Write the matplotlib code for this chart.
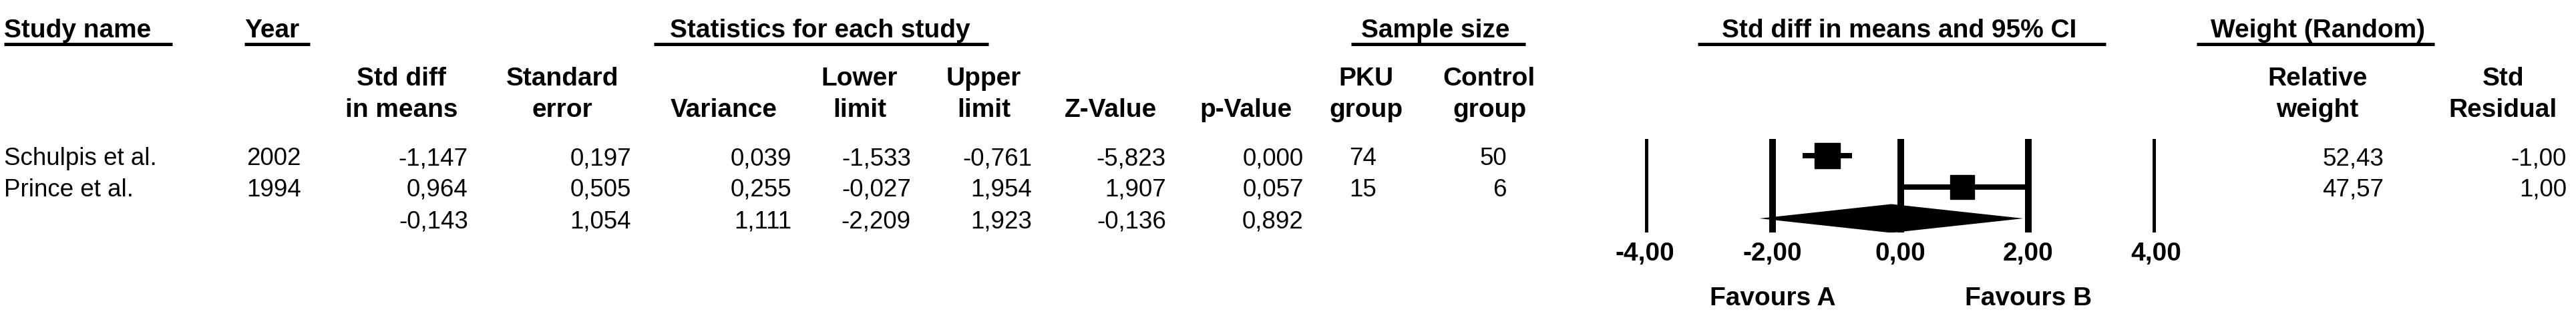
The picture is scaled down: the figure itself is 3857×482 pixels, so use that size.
import matplotlib
matplotlib.use('Agg')
import matplotlib.pyplot as plt

# per-study values
studies = ['Schulpis et al.', 'Prince et al.']
years = [2002, 1994]
std_diff = [-1.147, 0.964]
std_err = [0.197, 0.505]
variance = [0.039, 0.255]
lower = [-1.533, -0.027]
upper = [-0.761, 1.954]
z_value = [-5.823, 1.907]
p_value = [0.000, 0.057]
pku_n = [74, 15]
control_n = [50, 6]
rel_weight = [52.43, 47.57]
std_resid = [-1.00, 1.00]

# pooled (random effects) row
pooled_diff = -0.143
pooled_se = 1.054
pooled_var = 1.111
pooled_lower = -2.209
pooled_upper = 1.923
pooled_z = -0.136
pooled_p = 0.892

axis_ticks = [-4, -2, 0, 2, 4]

W, H = 3857, 482


def fmt(v, d):
    return f"{v:.{d}f}".replace('.', ',')


plt.rcParams['font.family'] = ['Liberation Sans', 'DejaVu Sans']

fig = plt.figure(figsize=(W / 100, H / 100), dpi=100)

# text layer in pixel coordinates
tab = fig.add_axes([0, 0, 1, 1])
tab.set_xlim(0, W)
tab.set_ylim(H, 0)
tab.axis('off')

FS = 26.5
HFS = 28

# group titles with underlines
groups = [
    ('Study name', 6, 6, 258),
    ('Year', 366, 366, 464),
    ('Statistics for each study', 1003, 979, 1480),
    ('Sample size', 2038, 2023, 2284),
    ('Std diff in means and 95% CI', 2578, 2542, 3153),
    ('Weight (Random)', 3310, 3289, 3645),
]
for label, tx, x0, x1 in groups:
    tab.text(tx, 56, label, fontsize=HFS, fontweight='bold', ha='left', va='baseline')
    tab.plot([x0, x1], [66, 66], color='black', lw=3.6, solid_capstyle='butt')

# column headers (two lines)
headers = [
    ('Std diff', 'in means', 601),
    ('Standard', 'error', 842),
    ('', 'Variance', 1084),
    ('Lower', 'limit', 1287),
    ('Upper', 'limit', 1473),
    ('', 'Z-Value', 1663),
    ('', 'p-Value', 1866),
    ('PKU', 'group', 2045),
    ('Control', 'group', 2230),
    ('Relative', 'weight', 3470),
    ('Std', 'Residual', 3748),
]
for l1, l2, cx in headers:
    if l1:
        tab.text(cx, 128, l1, fontsize=HFS, fontweight='bold', ha='center', va='baseline')
    tab.text(cx, 175, l2, fontsize=HFS, fontweight='bold', ha='center', va='baseline')

# data rows
row_base = [247, 294, 341]
for i in range(len(studies)):
    yb = row_base[i]
    tab.text(6, yb, studies[i], fontsize=FS, ha='left', va='baseline')
    tab.text(369, yb, str(years[i]), fontsize=FS, ha='left', va='baseline')
    cols = [
        (fmt(std_diff[i], 3), 701), (fmt(std_err[i], 3), 945),
        (fmt(variance[i], 3), 1185), (fmt(lower[i], 3), 1364),
        (fmt(upper[i], 3), 1545), (fmt(z_value[i], 3), 1746),
        (fmt(p_value[i], 3), 1952), (str(control_n[i]), 2256),
        (fmt(rel_weight[i], 2), 3569), (fmt(std_resid[i], 2), 3843),
    ]
    for s, xr in cols:
        tab.text(xr, yb, s, fontsize=FS, ha='right', va='baseline')
    tab.text(2020, yb, str(pku_n[i]), fontsize=FS, ha='left', va='baseline')

yb = row_base[2]
for v, xr in [(pooled_diff, 701), (pooled_se, 945), (pooled_var, 1185),
              (pooled_lower, 1364), (pooled_upper, 1545), (pooled_z, 1746),
              (pooled_p, 1952)]:
    tab.text(xr, yb, fmt(v, 3), fontsize=FS, ha='right', va='baseline')

# forest plot axes: x -4..4 maps to pixels 2463..3228, y rows 208..348 px
fx0, fx1 = 2463, 3228
fy0, fy1 = 208, 348
ax = fig.add_axes([fx0 / W, (H - fy1) / H, (fx1 - fx0) / W, (fy1 - fy0) / H])
ax.set_xlim(-4, 4)
row_px = 47.0
ax.set_ylim((fy1 - 233) / row_px, (fy0 - 233) / row_px)
ax.axis('off')

for t in axis_ticks:
    ax.axvline(t, color='black', lw=7.2, solid_capstyle='butt')

max_w = max(rel_weight)
for i in range(len(studies)):
    ax.plot([lower[i], upper[i]], [i, i], color='black', lw=5.8, solid_capstyle='butt')
    ms = 27.4 * (rel_weight[i] / max_w) ** 0.5
    ax.plot(std_diff[i], i, marker='s', ms=ms, color='black', mec='black')

dh = 0.457
ax.fill([pooled_lower, pooled_diff, pooled_upper, pooled_diff],
        [2, 2 - dh, 2, 2 + dh], color='black', lw=0)

trans = ax.get_xaxis_transform()
for t in axis_ticks:
    ax.text(t, (fy1 - 390) / (fy1 - fy0), fmt(t, 2), transform=trans,
            fontsize=HFS, fontweight='bold', ha='center', va='baseline', clip_on=False)
ax.text(-2, (fy1 - 457) / (fy1 - fy0), 'Favours A', transform=trans,
        fontsize=HFS, fontweight='bold', ha='center', va='baseline', clip_on=False)
ax.text(2, (fy1 - 457) / (fy1 - fy0), 'Favours B', transform=trans,
        fontsize=HFS, fontweight='bold', ha='center', va='baseline', clip_on=False)

fig.savefig('out.png', dpi=100, facecolor='white')
